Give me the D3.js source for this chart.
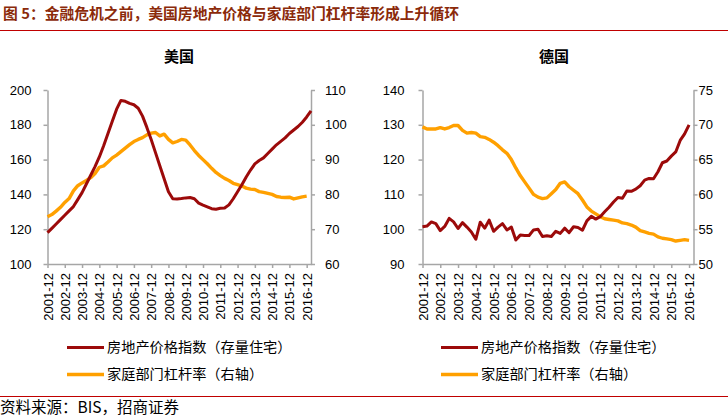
<!DOCTYPE html>
<html>
<head>
<meta charset="utf-8">
<script src="https://cdn.jsdelivr.net/npm/d3@7"></script>
<style>
  html, body { margin: 0; padding: 0; background: #fff; }
  svg { display: block; }
  text { font-family: "Liberation Sans", Arial, sans-serif; }
  .cjk { font-family: "Noto Sans CJK SC", sans-serif; }
</style>
</head>
<body>
<svg id="chart" width="728" height="418"></svg>
<script>
// ---------------- DATA ----------------
const categories = [
  "2001-12",
  "2002-03","2002-06","2002-09","2002-12",
  "2003-03","2003-06","2003-09","2003-12",
  "2004-03","2004-06","2004-09","2004-12",
  "2005-03","2005-06","2005-09","2005-12",
  "2006-03","2006-06","2006-09","2006-12",
  "2007-03","2007-06","2007-09","2007-12",
  "2008-03","2008-06","2008-09","2008-12",
  "2009-03","2009-06","2009-09","2009-12",
  "2010-03","2010-06","2010-09","2010-12",
  "2011-03","2011-06","2011-09","2011-12",
  "2012-03","2012-06","2012-09","2012-12",
  "2013-03","2013-06","2013-09","2013-12",
  "2014-03","2014-06","2014-09","2014-12",
  "2015-03","2015-06","2015-09","2015-12",
  "2016-03","2016-06","2016-09","2016-12",
  "2017-03"
];
const tickLabels = ["2001-12","2002-12","2003-12","2004-12","2005-12","2006-12","2007-12","2008-12",
  "2009-12","2010-12","2011-12","2012-12","2013-12","2014-12","2015-12","2016-12"];

// 美国 房地产价格指数（左轴）
const usHousePrice = [
  118.0,120.5,123.0,125.5,128.0,130.5,133.0,137.0,141.0,146.0,
  151.0,156.0,161.5,168.0,175.0,182.0,189.0,194.0,193.5,192.3,
  191.5,189.5,185.0,178.5,171.5,164.0,156.5,149.0,141.5,137.5,
  137.3,137.6,138.0,138.2,137.5,135.0,133.8,132.8,131.8,131.5,
  132.0,132.2,134.0,137.5,141.5,145.5,150.0,154.0,157.5,159.5,
  161.0,163.5,166.0,168.5,170.5,172.5,175.0,177.0,179.0,181.5,
  184.5,188.0
];
// 美国 家庭部门杠杆率（右轴）
const usLeverage = [
  73.6,74.2,75.2,76.3,77.7,78.8,81.0,82.5,83.3,84.0,
  84.8,86.0,87.8,88.2,89.3,90.5,91.3,92.3,93.3,94.3,
  95.2,95.8,96.3,97.1,97.6,97.8,96.8,97.3,95.8,94.8,
  95.2,95.8,95.6,94.2,92.6,91.2,90.0,88.8,87.5,86.3,
  85.4,84.6,84.0,83.2,82.8,82.4,81.8,81.5,81.4,80.8,
  80.6,80.3,80.0,79.4,79.2,79.1,79.2,78.7,79.0,79.3,
  79.5
];
// 德国 房地产价格指数（左轴）
const deHousePrice = [
  100.7,100.9,102.1,101.6,99.6,100.8,103.1,102.1,100.2,101.9,
  100.6,99.2,97.1,102.0,100.3,102.6,99.4,100.6,101.6,99.8,
  100.6,96.9,98.3,98.2,98.2,99.8,100.0,97.9,98.1,97.9,
  99.4,98.8,100.3,99.0,100.7,100.5,99.7,102.4,103.7,102.9,
  103.6,105.0,106.3,107.8,109.1,108.9,111.0,110.9,111.5,112.5,
  114.1,114.6,114.5,116.5,119.1,119.6,121.0,122.2,125.5,127.4,
  130.0
];
// 德国 家庭部门杠杆率（右轴）
const deLeverage = [
  69.7,69.4,69.4,69.4,69.6,69.4,69.6,69.9,69.9,69.2,
  68.8,68.9,68.8,68.3,68.2,67.9,67.5,67.0,66.4,65.9,
  65.0,63.8,62.7,61.8,60.9,60.0,59.6,59.4,59.5,60.1,
  60.7,61.6,61.8,61.1,60.6,60.1,59.2,58.2,57.6,57.2,
  56.8,56.5,56.4,56.3,56.2,55.9,55.8,55.6,55.3,54.8,
  54.6,54.4,54.3,53.9,53.7,53.6,53.5,53.3,53.4,53.5,
  53.4
];

const usLeftTicks = [100,120,140,160,180,200];
const usRightTicks = [60,70,80,90,100,110];
const deLeftTicks = [90,100,110,120,130,140];
const deRightTicks = [50,55,60,65,70,75];

const seriesNames = ["房地产价格指数（存量住宅）", "家庭部门杠杆率（右轴）"];
const titleText = "图 5：金融危机之前，美国房地产价格与家庭部门杠杆率形成上升循环";
const sourceText = "资料来源：BIS，招商证券";

// ---------------- STYLE ----------------
const RED = "#9C0A0A";
const ORANGE = "#FFA000";
const AXIS = "#A6A6A6";
const TITLE_COLOR = "#8B2A0A";

const svg = d3.select("#chart");

// Header
svg.append("text").attr("class", "cjk")
  .attr("x", 3).attr("y", 19)
  .attr("font-size", 14.8).attr("font-weight", "bold")
  .attr("fill", TITLE_COLOR)
  .text(titleText);
svg.append("line").attr("x1", 0).attr("x2", 728).attr("y1", 30.5).attr("y2", 30.5)
  .attr("stroke", "#C00000").attr("stroke-width", 1);

// Footer
svg.append("line").attr("x1", 0).attr("x2", 728).attr("y1", 396.5).attr("y2", 396.5)
  .attr("stroke", "#C00000").attr("stroke-width", 1);
svg.append("text").attr("class", "cjk")
  .attr("x", 0).attr("y", 413)
  .attr("font-size", 15.5).attr("fill", "#000")
  .text(sourceText);

const panels = [
  { title: "美国", cx: 179, x0: 47.5, x1: 311, house: usHousePrice, lev: usLeverage,
    leftTicks: usLeftTicks, rightTicks: usRightTicks, leftPad: 12, rightPad: 10,
    legendX: 67 },
  { title: "德国", cx: 554, x0: 422.5, x1: 693.5, house: deHousePrice, lev: deLeverage,
    leftTicks: deLeftTicks, rightTicks: deRightTicks, leftPad: 14, rightPad: 1,
    legendX: 441 }
];

const yTop = 90, yBottom = 264;

panels.forEach(p => {
  const g = svg.append("g");
  const x = d3.scalePoint().domain(categories).range([p.x0, p.x1]);
  const yL = d3.scaleLinear().domain(d3.extent(p.leftTicks)).range([yBottom, yTop]);
  const yR = d3.scaleLinear().domain(d3.extent(p.rightTicks)).range([yBottom, yTop]);

  // panel title
  g.append("text").attr("class", "cjk")
    .attr("x", p.cx).attr("y", 62).attr("text-anchor", "middle")
    .attr("font-size", 15).attr("font-weight", "bold").attr("fill", "#000")
    .text(p.title);

  const styleAxis = sel => {
    sel.select(".domain").attr("stroke", AXIS).attr("stroke-width", 1.5);
    sel.selectAll(".tick line").attr("stroke", AXIS).attr("stroke-width", 1.5);
    sel.selectAll(".tick text").attr("fill", "#000").attr("font-size", 13)
      .attr("font-family", "'Liberation Sans', Arial, sans-serif");
  };

  // left axis
  g.append("g").attr("transform", `translate(${p.x0},0)`)
    .call(d3.axisLeft(yL).tickValues(p.leftTicks).tickSize(4).tickSizeOuter(0).tickPadding(p.leftPad))
    .call(styleAxis);
  // right axis
  g.append("g").attr("transform", `translate(${p.x1},0)`)
    .call(d3.axisRight(yR).tickValues(p.rightTicks).tickSize(4).tickSizeOuter(0).tickPadding(p.rightPad))
    .call(styleAxis);
  // x axis
  const xa = g.append("g").attr("transform", `translate(0,${yBottom})`)
    .call(d3.axisBottom(x).tickValues(tickLabels).tickSize(4).tickSizeOuter(0).tickPadding(0))
    .call(styleAxis);
  xa.selectAll(".tick text")
    .attr("transform", "rotate(-90)")
    .attr("text-anchor", "end")
    .attr("x", -9).attr("y", 0)
    .attr("dy", "0.35em")
    .attr("font-size", 13);

  // lines
  const lineL = d3.line().x((d, i) => x(categories[i])).y(d => yL(d)).curve(d3.curveLinear);
  const lineR = d3.line().x((d, i) => x(categories[i])).y(d => yR(d)).curve(d3.curveLinear);

  g.append("path").datum(p.lev)
    .attr("d", lineR).attr("fill", "none")
    .attr("stroke", ORANGE).attr("stroke-width", 3.4).attr("stroke-linejoin", "round");
  g.append("path").datum(p.house)
    .attr("d", lineL).attr("fill", "none")
    .attr("stroke", RED).attr("stroke-width", 3).attr("stroke-linejoin", "round");

  // legend
  const legend = [
    { name: seriesNames[0], color: RED, w: 3, y: 347.5 },
    { name: seriesNames[1], color: ORANGE, w: 3.4, y: 374.5 }
  ];
  legend.forEach(l => {
    g.append("line").attr("x1", p.legendX).attr("x2", p.legendX + 37)
      .attr("y1", l.y).attr("y2", l.y).attr("stroke", l.color).attr("stroke-width", l.w);
    g.append("text").attr("class", "cjk")
      .attr("x", p.legendX + 40).attr("y", l.y).attr("dy", "0.35em")
      .attr("font-size", 14.2).attr("fill", "#000")
      .text(l.name);
  });
});
</script>
</body>
</html>
